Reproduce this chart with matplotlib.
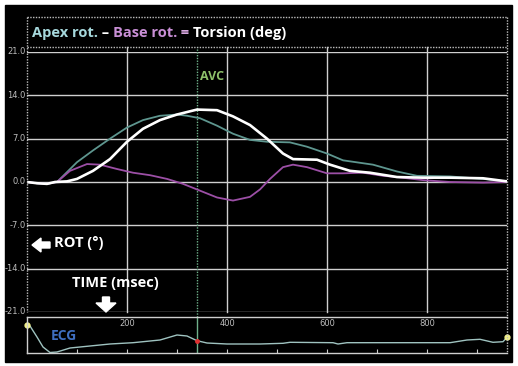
import matplotlib
matplotlib.use("Agg")
import matplotlib.pyplot as plt
from matplotlib.patches import Rectangle, FancyArrow

# apex rotation (teal), ms / deg
apex_t = [0, 20, 40, 60, 80, 100, 132, 166, 200, 232, 266, 300, 320, 346, 380,
          412, 446, 480, 526, 560, 600, 632, 692, 740, 780, 846, 912, 960]
apex = [0, -0.2, -0.3, 0, 1.6, 3.2, 5.1, 7.0, 8.8, 10.0, 10.7, 10.9, 10.7, 10.3, 9.1,
        7.8, 6.8, 6.5, 6.4, 5.7, 4.6, 3.5, 2.8, 1.7, 1.0, 0.9, 0.5, 0.1]

# base rotation (purple)
base_t = [0, 20, 40, 60, 86, 120, 146, 180, 212, 246, 280, 312, 346, 380, 412,
          446, 466, 486, 512, 532, 560, 600, 632, 672, 712, 740, 792, 846, 912, 960]
base = [0, -0.2, -0.3, 0, 1.8, 2.9, 2.8, 2.1, 1.5, 1.1, 0.5, -0.3, -1.4, -2.5, -3.0,
        -2.4, -1.2, 0.5, 2.4, 2.8, 2.4, 1.4, 1.4, 1.5, 1.0, 0.8, 0.3, 0.0, -0.1, 0]

# torsion (white)
tors_t = [0, 20, 40, 56, 80, 100, 132, 166, 200, 232, 266, 300, 340, 380, 412,
          446, 480, 512, 532, 580, 606, 646, 686, 740, 792, 846, 912, 960]
tors = [0, -0.2, -0.3, 0, 0.1, 0.5, 1.8, 3.7, 6.5, 8.6, 10.0, 10.9, 11.7, 11.6, 10.6,
        9.2, 7.0, 4.6, 3.7, 3.6, 2.8, 1.8, 1.5, 0.8, 0.7, 0.7, 0.6, 0.1]

# ecg trace (arbitrary units)
ecg_t = [0, 6, 20, 32, 46, 60, 86, 126, 166, 212, 266, 300, 320, 340, 360, 400,
         466, 512, 526, 612, 622, 640, 846, 880, 906, 932, 952, 960]
ecg = [35, 34, 23, 13, 7.5, 8, 12, 14, 16, 17.3, 20, 25, 24, 19.3, 17, 16,
       16, 16.7, 17.7, 17.3, 16, 17.3, 17.3, 20, 20.7, 17.7, 18.3, 22.7]

avc = 340
yticks = [21, 14, 7, 0, -7, -14, -21]
xticks = [200, 400, 600, 800]

W, H = 518, 366
fig = plt.figure(figsize=(W / 100, H / 100), dpi=100)
fig.patch.set_facecolor("white")

def fbox(x0, y0, x1, y1):
    return [x0 / W, 1 - y1 / H, (x1 - x0) / W, (y1 - y0) / H]

bg = fig.add_axes([0, 0, 1, 1], zorder=0)
bg.set_xlim(0, W)
bg.set_ylim(H, 0)
bg.axis("off")
bg.add_patch(Rectangle((5, 5), 507, 357, color="black"))

grid_c = "#cfcfcf"
ax = fig.add_axes(fbox(27, 52, 507, 312), zorder=1)
ax.patch.set_alpha(0)
ax.set_xlim(0, 960)
ax.set_ylim(-21, 21)
for s in ax.spines.values():
    s.set_visible(False)
ax.set_xticks([])
ax.set_yticks([])
for v in yticks:
    ax.axhline(v, color=grid_c, lw=1)
    ax.text(-3, v, "%.1f" % v, ha="right", va="center", fontsize=6,
            color="#bdbdbd", clip_on=False)
for v in xticks:
    ax.axvline(v, ymin=0, ymax=1 + 5 / 260, color=grid_c, lw=1, clip_on=False)
ax.axvline(avc, ymin=-5 / 260, ymax=1 + 5 / 260, color="#6fb08a", lw=1,
           ls=(0, (1, 1)), clip_on=False)
ax.text(avc + 6, 17, "AVC", color="#8dc06a", fontsize=9, fontweight="bold",
        family="Open Sans", va="center")

ax.plot(apex_t, apex, color="#5e968f", lw=1.3)
ax.plot(base_t, base, color="#9c4fa6", lw=1.3)
ax.plot(tors_t, tors, color="white", lw=1.9)

# ECG strip
ex = fig.add_axes(fbox(27, 317, 507, 353), zorder=1)
ex.patch.set_alpha(0)
ex.set_xlim(0, 960)
ex.set_ylim(7, 43)
for s in ex.spines.values():
    s.set_visible(False)
for k in ["top", "bottom", "left"]:
    ex.spines[k].set_visible(True)
    ex.spines[k].set_color(grid_c)
    ex.spines[k].set_linewidth(1)
ex.set_xticks(range(0, 961, 100))
ex.tick_params(axis="x", direction="in", length=3, color=grid_c, labelbottom=False)
ex.set_yticks([])
for v in xticks:
    ex.text(v, 37, str(v), ha="center", va="center", fontsize=6, color="#bdbdbd")
ex.axvline(avc, color="#6fb08a", lw=1)
ex.plot(ecg_t, ecg, color="#9fc3c0", lw=1)
ex.plot([avc], [19.3], "o", color="#e03030", ms=2.5)
ex.plot([ecg_t[0], ecg_t[-1]], [ecg[0], ecg[-1]], "o", color="#f2f08a", ms=3.5,
        clip_on=False)
ex.text(48, 24, "ECG", color="#3f6fc0", fontsize=10, fontweight="bold",
        family="Open Sans", va="center")

# overlay: title box, labels and arrows
top = fig.add_axes([0, 0, 1, 1], zorder=2)
top.patch.set_alpha(0)
top.set_xlim(0, W)
top.set_ylim(H, 0)
top.axis("off")
dot = dict(color="#bdbdbd", lw=1, ls=(0, (1, 1)))
top.plot([27, 507], [17, 17], **dot)
top.plot([27, 507], [47, 47], **dot)
top.plot([27, 27], [17, 312], **dot)
top.plot([507, 507], [17, 353], **dot)

parts = [("Apex rot.", "#a6d8dc"), (" \u2013 ", "white"), ("Base rot.", "#c98fd6"),
         (" = ", "#d8a8e0"), ("Torsion (deg)", "white")]
x = 32
fig.canvas.draw()
r = fig.canvas.get_renderer()
for s, c in parts:
    t = top.text(x, 33, s, color=c, fontsize=10.5, fontweight="bold",
                 family="Open Sans", va="center", ha="left")
    bb = t.get_window_extent(renderer=r)
    x += bb.width

top.text(54, 243, "ROT (\u00b0)", color="white", fontsize=10.5, fontweight="bold",
         family="Open Sans", va="center")
top.text(72, 283, "TIME (msec)", color="white", fontsize=10.5, fontweight="bold",
         family="Open Sans", va="center")
top.add_patch(FancyArrow(50, 245, -9, 0, width=6, head_width=14, head_length=9,
                         color="white"))
top.add_patch(FancyArrow(106, 297, 0, 6, width=7, head_width=20, head_length=9,
                         color="white"))

fig.savefig("out.png", dpi=100, facecolor="white")
